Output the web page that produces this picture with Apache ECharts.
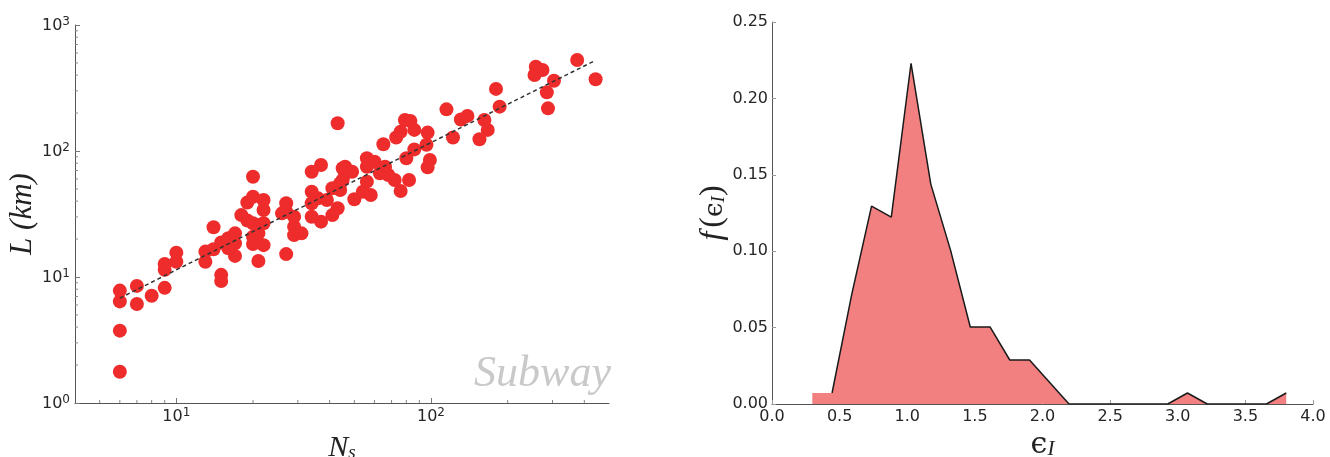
<!DOCTYPE html>
<html><head><meta charset="utf-8">
<script src="https://cdn.jsdelivr.net/npm/echarts@6/dist/echarts.min.js"></script>
<style>html,body{margin:0;padding:0;background:#fff}#c{width:1330px;height:457px}</style>
</head><body><div id="c"></div>
<script>
// ---- Left panel: subway networks, number of stations vs length ----
const stations = [6,6,6,6,7,7,8,9,9,9,10,10,13,13,14,14,15,15,15,16,17,17,17,16,18,19,19,20,20,21,20,20,22,21,22,22,43,21,22,20,27,27,26,27,29,29,29,34,37,34,34,37,36,39,41,41,43,45,45,44,115,131,139,122,155,79,83,86,76,73,65,97,96,86,80,99,97,56,60,56,66,68,72,82,76,63,58,50,54,56,46,46,49,44,34,31,375,443,258,255,274,304,285,288,180,186,162,167];
const lengthsKm = [1.77,3.75,6.4,7.8,8.5,6.1,7.1,8.2,11.4,12.7,15.6,13.2,15.9,13.2,24.8,16.6,10.4,9.3,18.8,20.3,22.2,14.7,18.5,16.9,31.0,28.1,39.0,43.4,62.5,13.4,18.3,20.9,17.9,25.8,34,40.8,166,22.2,26.7,26.7,38.5,33,32,15.2,25.1,21.5,30.1,68.5,77.4,47.5,30.1,27.5,42.1,40.8,50.6,31,35.1,72.9,58.9,49.0,214,178,190,128,124,176,173,147,142,128,113,140,112,103,87.5,84.9,74.2,87.5,82.2,75,75,64.5,58.9,58.9,48.1,66.5,44.8,41.4,47.5,57.1,75,66.5,68.5,55.4,38.5,22.2,528,371,467,401,439,361,292,218,311,225,176,147];
const fitStations = [6, 440];
const fitLengths = [6.8, 521];
const xMinorTicks = [5,6,7,8,9,20,30,40,50,60,70,80,90,200,300,400];
const yMinorTicks = [2,3,4,5,6,7,8,9,20,30,40,50,60,70,80,90,200,300,400,500,600,700,800,900];

// ---- Right panel: distribution of epsilon_I ----
const epsilonBins = [0.298,0.444,0.590,0.736,0.882,1.028,1.174,1.320,1.466,1.612,1.758,1.904,2.050,2.196,2.342,2.488,2.634,2.780,2.926,3.072,3.218,3.364,3.510,3.656,3.802];
const density = [0.0072,0.0072,0.0719,0.1295,0.1223,0.2230,0.1439,0.1007,0.0504,0.0504,0.0288,0.0288,0.0144,0,0,0,0,0,0,0.0072,0,0,0,0,0.0072];

function powLabel(v){
  const e = Math.log10(v), r = Math.round(e);
  if (Math.abs(e - r) > 1e-6) return '';
  return '{b|10}{p|' + r + '}';
}
const powRich = {
  b:{fontFamily:'DejaVu Sans', fontSize:16, color:'#262626', verticalAlign:'bottom', lineHeight:18},
  p:{fontFamily:'DejaVu Sans', fontSize:12, color:'#262626', verticalAlign:'top', lineHeight:12, padding:[0,0,9,0]}
};
const tickFont = {fontFamily:'DejaVu Sans', fontSize:16, color:'#262626'};
const axisLineStyle = {lineStyle:{color:'#555', width:1}};

const chart = echarts.init(document.getElementById('c'), null, {renderer:'canvas'});
const scatterData = stations.map((n,i)=>[n, lengthsKm[i]]);
const fitData = fitStations.map((n,i)=>[n, fitLengths[i]]);
const histData = epsilonBins.map((e,i)=>[e, density[i]]);

chart.setOption({
  animation:false,
  backgroundColor:'#fff',
  grid:[
    {left:75, right:721, top:25, bottom:54, containLabel:false, outerBoundsMode:'none'},
    {left:772, right:17, top:22, bottom:53, containLabel:false, outerBoundsMode:'none'}
  ],
  xAxis:[
    {gridIndex:0, type:'log', logBase:10, min:4, max:500,
     axisLine:axisLineStyle, splitLine:{show:false},
     axisTick:{inside:true, length:5, lineStyle:{color:'#777'}},
     axisLabel:{formatter:powLabel, showMinLabel:false, showMaxLabel:false, margin:4, rich:powRich},
     name:'{n|N}{s|s}', nameLocation:'middle', nameGap:20,
     nameTextStyle:{rich:{
       n:{fontFamily:'Liberation Serif', fontStyle:'italic', fontSize:30, color:'#222', verticalAlign:'bottom', lineHeight:30},
       s:{fontFamily:'Liberation Serif', fontStyle:'italic', fontSize:19, color:'#222', verticalAlign:'bottom', lineHeight:8}
     }}},
    {gridIndex:1, type:'value', min:0, max:4, interval:0.5,
     axisLine:axisLineStyle, splitLine:{show:false},
     axisTick:{inside:true, length:4, lineStyle:{color:'#999'}},
     axisLabel:Object.assign({formatter:v=>v.toFixed(1), margin:5}, tickFont),
     name:'{e|\u03F5}{s|I}', nameLocation:'middle', nameGap:15,
     nameTextStyle:{rich:{
       e:{fontFamily:'DejaVu Serif', fontSize:30, color:'#222', verticalAlign:'bottom', lineHeight:30},
       s:{fontFamily:'Liberation Serif', fontStyle:'italic', fontSize:21, color:'#222', verticalAlign:'bottom', lineHeight:8}
     }}}
  ],
  yAxis:[
    {gridIndex:0, type:'log', logBase:10, min:1, max:1000,
     axisLine:axisLineStyle, splitLine:{show:false},
     axisTick:{inside:true, length:5, lineStyle:{color:'#777'}},
     axisLabel:{formatter:powLabel, margin:5, rich:powRich},
     name:'L (km)', nameLocation:'middle', nameGap:37, nameRotate:90,
     nameTextStyle:{fontFamily:'Liberation Serif', fontStyle:'italic', fontSize:31, color:'#222'}},
    {gridIndex:1, type:'value', min:0, max:0.25, interval:0.05,
     axisLine:axisLineStyle, splitLine:{show:false},
     axisTick:{inside:true, length:4, lineStyle:{color:'#999'}},
     axisLabel:Object.assign({formatter:v=>v.toFixed(2), margin:4}, tickFont),
     name:'{i|f}{b|(}{e|\u03F5}{s|I}{b|)}', nameLocation:'middle', nameGap:42, nameRotate:90,
     nameTextStyle:{rich:{
       i:{fontFamily:'Liberation Serif', fontStyle:'italic', fontSize:32, color:'#222', verticalAlign:'bottom', lineHeight:32, padding:[0,4,0,0]},
       b:{fontFamily:'Liberation Serif', fontSize:32, color:'#222', verticalAlign:'bottom', lineHeight:32},
       e:{fontFamily:'DejaVu Serif', fontSize:26, color:'#222', verticalAlign:'bottom', lineHeight:30},
       s:{fontFamily:'Liberation Serif', fontStyle:'italic', fontSize:19, color:'#222', verticalAlign:'bottom', lineHeight:8}
     }}}
  ],
  graphic:[
    {type:'text', x:611, y:374, silent:true,
     style:{text:'Subway', fontFamily:'Liberation Serif', fontStyle:'italic', fontSize:44, fill:'#c9c9c9', align:'right', verticalAlign:'middle'}}
  ],
  series:[
    {type:'scatter', xAxisIndex:0, yAxisIndex:0, data:scatterData, symbolSize:14,
     itemStyle:{color:'#EE2C2C', opacity:1}, z:2},
    {type:'line', xAxisIndex:0, yAxisIndex:0, data:fitData, symbol:'none',
     lineStyle:{color:'#333', width:1.5, type:[4,3]}, z:3},
    {type:'custom', xAxisIndex:0, yAxisIndex:0, silent:true, clip:false, z:4,
     data:yMinorTicks.map(v=>[4, v]),
     renderItem:(p, api)=>{ const c = api.coord([api.value(0), api.value(1)]);
       return {type:'line', shape:{x1:c[0], y1:c[1], x2:c[0]+3, y2:c[1]}, style:{stroke:'#888', lineWidth:1}}; }},
    {type:'custom', xAxisIndex:0, yAxisIndex:0, silent:true, clip:false, z:4,
     data:xMinorTicks.map(v=>[v, 1]),
     renderItem:(p, api)=>{ const c = api.coord([api.value(0), api.value(1)]);
       return {type:'line', shape:{x1:c[0], y1:c[1], x2:c[0], y2:c[1]-3}, style:{stroke:'#888', lineWidth:1}}; }},
    {type:'line', xAxisIndex:1, yAxisIndex:1, data:histData, symbol:'none',
     lineStyle:{width:0}, areaStyle:{color:'#F28080', opacity:1}, z:2},
    {type:'line', xAxisIndex:1, yAxisIndex:1, data:histData.slice(1), symbol:'none',
     lineStyle:{color:'#1a1a1a', width:1.5}, z:3}
  ]
});
</script></body></html>
